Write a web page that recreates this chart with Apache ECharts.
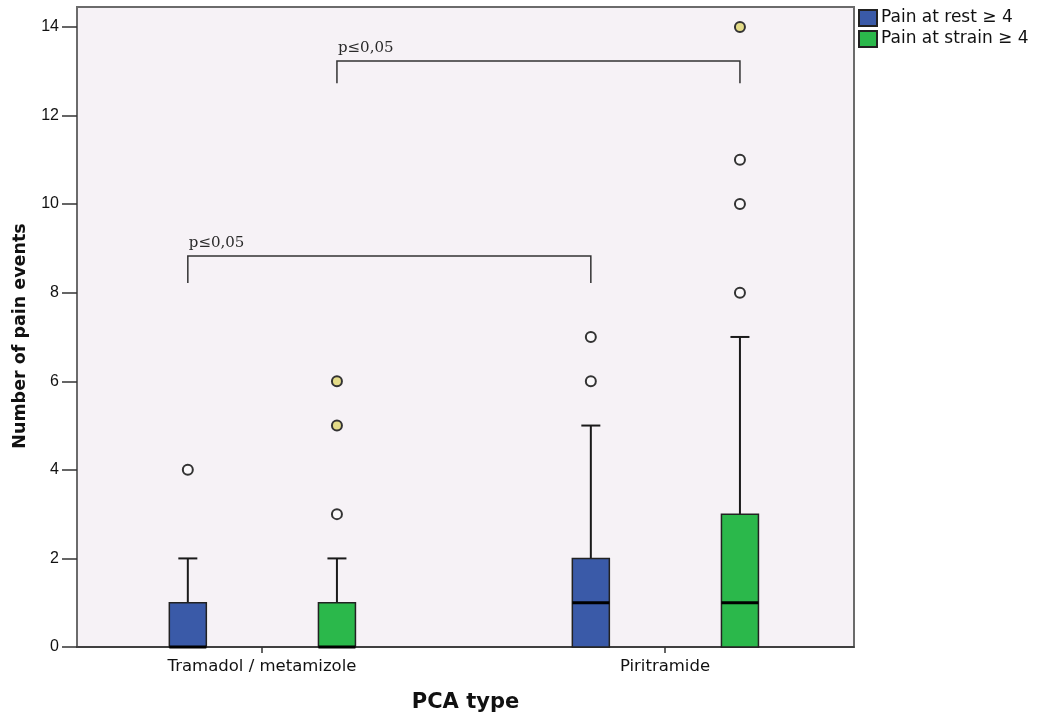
<!DOCTYPE html>
<html>
<head>
<meta charset="utf-8">
<title>Pain events by PCA type</title>
<script src="https://cdn.jsdelivr.net/npm/echarts@6/dist/echarts.min.js"></script>
<style>
  html, body { margin: 0; padding: 0; background: #ffffff; overflow: hidden; }
  #chart { width: 1041px; height: 716px; }
</style>
</head>
<body>
<div id="chart"></div>
<script>
// Categories on the x axis
const categories = ['Tramadol / metamizole', 'Piritramide'];
const seriesNames = ['Pain at rest \u2265 4', 'Pain at strain \u2265 4'];

// Five-number summaries per category: [min, Q1, median, Q3, max]
const restStats = [
  [0, 0, 0, 1, 2],
  [0, 0, 1, 2, 5]
];
const strainStats = [
  [0, 0, 0, 1, 2],
  [0, 0, 1, 3, 7]
];

// Outliers: [category index, value, shaded]
const restOutliers = [
  [0, 4, false],
  [1, 6, false],
  [1, 7, false]
];
const strainOutliers = [
  [0, 3, false],
  [0, 5, true],
  [0, 6, true],
  [1, 8, false],
  [1, 10, false],
  [1, 11, false],
  [1, 14, true]
];

// Y axis tick values
const yTicks = [0, 2, 4, 6, 8, 10, 12, 14];

// Significance brackets: from/to = [category index, group index]
const brackets = [
  { from: [0, 0], to: [1, 0], top: 8.83, legEnd: 8.22, label: 'p\u22640,05' },
  { from: [0, 1], to: [1, 1], top: 13.23, legEnd: 12.73, label: 'p\u22640,05' }
];

// ---- layout / style ----
const groupOffset = [-0.184, 0.186];   // horizontal shift of each group inside a category
const colors = ['#3A5AA8', '#2BB84B'];
const boxWidth = 37;
const capWidth = 19;
const plotBg = '#F6F2F6';
const ink = '#1a1a1a';
const sans = '"DejaVu Sans", Verdana, sans-serif';

function boxRenderer(groupIdx) {
  return function (params, api) {
    const cat = api.value(0);
    const xv = cat + groupOffset[groupIdx];
    const cx = api.coord([xv, 0])[0];
    const yOf = v => api.coord([xv, v])[1];
    const mn = api.value(1), q1 = api.value(2), md = api.value(3), q3 = api.value(4), mx = api.value(5);
    const hw = boxWidth / 2, cw = capWidth / 2;
    const children = [];
    const lineStyle = { stroke: ink, lineWidth: 2 };
    if (mx > q3) {
      children.push({ type: 'line', shape: { x1: cx, y1: yOf(q3), x2: cx, y2: yOf(mx) }, style: lineStyle });
      children.push({ type: 'line', shape: { x1: cx - cw, y1: yOf(mx), x2: cx + cw, y2: yOf(mx) }, style: lineStyle });
    }
    if (mn < q1) {
      children.push({ type: 'line', shape: { x1: cx, y1: yOf(q1), x2: cx, y2: yOf(mn) }, style: lineStyle });
      children.push({ type: 'line', shape: { x1: cx - cw, y1: yOf(mn), x2: cx + cw, y2: yOf(mn) }, style: lineStyle });
    }
    const yTop = yOf(q3), yBot = yOf(q1);
    children.push({
      type: 'rect',
      shape: { x: cx - hw, y: yTop, width: boxWidth, height: yBot - yTop },
      style: { fill: colors[groupIdx], stroke: '#222', lineWidth: 1.5 }
    });
    children.push({
      type: 'line',
      shape: { x1: cx - hw, y1: yOf(md), x2: cx + hw, y2: yOf(md) },
      style: { stroke: '#000', lineWidth: 3 }
    });
    return { type: 'group', children: children };
  };
}

function bracketRenderer(params, api) {
  const b = brackets[params.dataIndex];
  const x1v = b.from[0] + groupOffset[b.from[1]];
  const x2v = b.to[0] + groupOffset[b.to[1]];
  const pTopL = api.coord([x1v, b.top]);
  const pTopR = api.coord([x2v, b.top]);
  const pEndL = api.coord([x1v, b.legEnd]);
  const pEndR = api.coord([x2v, b.legEnd]);
  const st = { stroke: '#333', lineWidth: 1.5, fill: null };
  return {
    type: 'group',
    children: [
      { type: 'polyline', shape: { points: [[pEndL[0], pEndL[1]], [pTopL[0], pTopL[1]], [pTopR[0], pTopR[1]], [pEndR[0], pEndR[1]]] }, style: st },
      {
        type: 'text',
        x: pTopL[0] + 1, y: pTopL[1] - 5,
        style: {
          text: b.label, fill: '#2a2a2a',
          font: '15px "DejaVu Serif", "Liberation Serif", serif',
          align: 'left', verticalAlign: 'bottom'
        }
      }
    ]
  };
}

function outlierData(list, groupIdx) {
  return list.map(o => ({
    value: [o[0] + groupOffset[groupIdx], o[1]],
    itemStyle: { color: o[2] ? '#E4DC88' : '#FBF9FB' }
  }));
}

const chart = echarts.init(document.getElementById('chart'), null, { renderer: 'canvas' });

const option = {
  backgroundColor: '#ffffff',
  animation: false,
  grid: {
    left: 77, right: 187, top: 7, bottom: 69,
    outerBoundsMode: 'none',
    containLabel: false,
    show: true, backgroundColor: plotBg, borderColor: '#6b6b6b', borderWidth: 2
  },
  legend: {
    data: seriesNames,
    orient: 'vertical',
    left: 858, top: 9,
    padding: 0,
    itemWidth: 18, itemHeight: 16, itemGap: 3,
    icon: 'rect',
    textStyle: { fontFamily: sans, fontSize: 17, color: '#111', padding: [0, 0, 0, -1] },
    selectedMode: false
  },
  xAxis: {
    type: 'value',
    min: -0.459, max: 1.469,
    name: 'PCA type',
    nameLocation: 'middle',
    nameGap: 45,
    nameTextStyle: { fontFamily: sans, fontWeight: 'bold', fontSize: 21, color: '#111' },
    axisLine: { show: true, onZero: false, lineStyle: { color: '#333', width: 1.5 } },
    axisTick: { show: true, customValues: [0, 1], length: 6, inside: false, lineStyle: { color: '#333', width: 1.5 } },
    axisLabel: {
      customValues: [0, 1],
      formatter: v => categories[Math.round(v)],
      fontFamily: sans, fontSize: 16.5, color: '#111', margin: 11
    },
    splitLine: { show: false }
  },
  yAxis: {
    type: 'value',
    min: 0, max: 14.45,
    name: 'Number of pain events',
    nameLocation: 'middle',
    nameGap: 48,
    nameRotate: 90,
    nameTextStyle: { fontFamily: sans, fontWeight: 'bold', fontSize: 17.5, color: '#111', padding: [0, 18, 0, 0] },
    axisLine: { show: true, onZero: false, lineStyle: { color: '#6b6b6b', width: 2 } },
    axisTick: { show: true, customValues: yTicks, length: 15, lineStyle: { color: '#333', width: 1.5 } },
    axisLabel: {
      customValues: yTicks,
      fontFamily: 'Liberation Sans, Arial, sans-serif', fontSize: 16, color: '#111', margin: 18
    },
    splitLine: { show: false }
  },
  series: [
    {
      name: seriesNames[0], type: 'custom',
      itemStyle: { color: colors[0], borderColor: '#222', borderWidth: 1 },
      renderItem: boxRenderer(0),
      data: restStats.map((s, i) => [i].concat(s)),
      encode: { x: 0, y: [1, 2, 3, 4, 5] },
      z: 3
    },
    {
      name: seriesNames[1], type: 'custom',
      itemStyle: { color: colors[1], borderColor: '#222', borderWidth: 1 },
      renderItem: boxRenderer(1),
      data: strainStats.map((s, i) => [i].concat(s)),
      encode: { x: 0, y: [1, 2, 3, 4, 5] },
      z: 3
    },
    {
      name: 'rest outliers', type: 'scatter',
      symbol: 'circle', symbolSize: 10,
      itemStyle: { borderColor: '#333', borderWidth: 2, opacity: 1 },
      data: outlierData(restOutliers, 0),
      z: 4
    },
    {
      name: 'strain outliers', type: 'scatter',
      symbol: 'circle', symbolSize: 10,
      itemStyle: { borderColor: '#333', borderWidth: 2, opacity: 1 },
      data: outlierData(strainOutliers, 1),
      z: 4
    },
    {
      name: 'brackets', type: 'custom',
      renderItem: bracketRenderer,
      data: brackets.map(b => [b.from[0] + groupOffset[b.from[1]], b.top]),
      silent: true,
      z: 5
    }
  ]
};

chart.setOption(option);
</script>
</body>
</html>
